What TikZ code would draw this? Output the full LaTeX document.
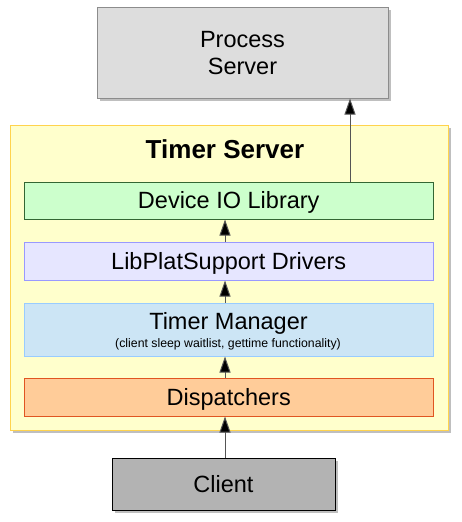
\documentclass[tikz,border=0pt]{standalone}
\usepackage{fontspec}
\setmainfont{Liberation Sans}
\usetikzlibrary{shadows,arrows.meta}
\definecolor{psfill}{HTML}{DDDDDD}
\definecolor{psdraw}{HTML}{8C8C8C}
\definecolor{tsfill}{HTML}{FFFFCC}
\definecolor{tsdraw}{HTML}{FFD34D}
\definecolor{devfill}{HTML}{CCFFCC}
\definecolor{devdraw}{HTML}{336633}
\definecolor{libfill}{HTML}{E6E6FF}
\definecolor{libdraw}{HTML}{9999FF}
\definecolor{tmfill}{HTML}{CCE5F5}
\definecolor{tmdraw}{HTML}{99CCFF}
\definecolor{dpfill}{HTML}{FFCC99}
\definecolor{dpdraw}{HTML}{E05522}
\definecolor{clfill}{HTML}{B3B3B3}
\definecolor{shadowc}{HTML}{BFBFBF}
\definecolor{arrline}{HTML}{555555}
\tikzset{
  box/.style={rectangle, inner sep=0pt, line width=1pt, align=center,
    font=\fontsize{23.5}{27}\selectfont, text height=16.8pt, text depth=0pt},
  shadowed/.style={drop shadow={shadow xshift=3pt, shadow yshift=-3pt, fill=shadowc, opacity=1}},
  arr/.style={line width=1pt, draw=arrline, -{Triangle[length=16pt,width=11pt,fill=black]}},
}
\begin{document}
\begin{tikzpicture}[x=1pt,y=-1pt]
\useasboundingbox (0,0) rectangle (461,522);
% Process Server
\node[rectangle, inner sep=0pt, line width=1pt, shadowed, fill=psfill, draw=psdraw, minimum width=291pt, minimum height=91pt] (ps) at (242.5,52.5) {};
\node[font=\fontsize{23.5}{27}\selectfont, inner sep=0pt, anchor=base] (pst1) at (242.5,47) {Process};
\node[font=\fontsize{23.5}{27}\selectfont, inner sep=0pt, anchor=base] (pst2) at (242.5,74) {Server};
% Timer Server container
\node[rectangle, inner sep=0pt, line width=1pt, shadowed, fill=tsfill, draw=tsdraw, minimum width=438pt, minimum height=305pt] (ts) at (229,277.5) {};
\node[font=\bfseries\fontsize{26}{30}\selectfont, inner sep=0pt, anchor=base] (tstitle) at (225,158.5) {Timer Server};
% inner layers
\node[box, fill=devfill, draw=devdraw, minimum width=408.5pt, minimum height=37pt] (dev) at (228.75,200.5) {Device IO Library};
\node[box, fill=libfill, draw=libdraw, minimum width=408.5pt, minimum height=38pt] (lib) at (228.75,261) {LibPlatSupport Drivers};
\node[rectangle, inner sep=0pt, line width=1pt, fill=tmfill, draw=tmdraw, minimum width=408.5pt, minimum height=53pt] (tm) at (228.75,329.5) {};
\node[font=\fontsize{23.5}{27}\selectfont, inner sep=0pt, anchor=base] (tmtitle) at (228.5,329) {Timer Manager};
\node[font=\fontsize{12.3}{14}\selectfont, inner sep=0pt, anchor=base] (tmsub) at (228,347) {(client sleep waitlist, gettime functionality)};
\node[box, fill=dpfill, draw=dpdraw, minimum width=408.5pt, minimum height=38pt] (dp) at (228.75,397) {Dispatchers};
% Client
\node[box, shadowed, fill=clfill, draw=black, minimum width=223pt, minimum height=52pt] (cl) at (223.5,484) {Client};
% arrow columns
\coordinate (ax) at (225,0);
\coordinate (px) at (350,0);
\draw[arr] (cl.north -| ax) -- (dp.south -| ax);
\draw[arr] (dp.north -| ax) -- (tm.south -| ax);
\draw[arr] (tm.north -| ax) -- (lib.south -| ax);
\draw[arr] (lib.north -| ax) -- (dev.south -| ax);
\draw[arr] (dev.north -| px) -- (ps.south -| px);
\end{tikzpicture}
\end{document}
